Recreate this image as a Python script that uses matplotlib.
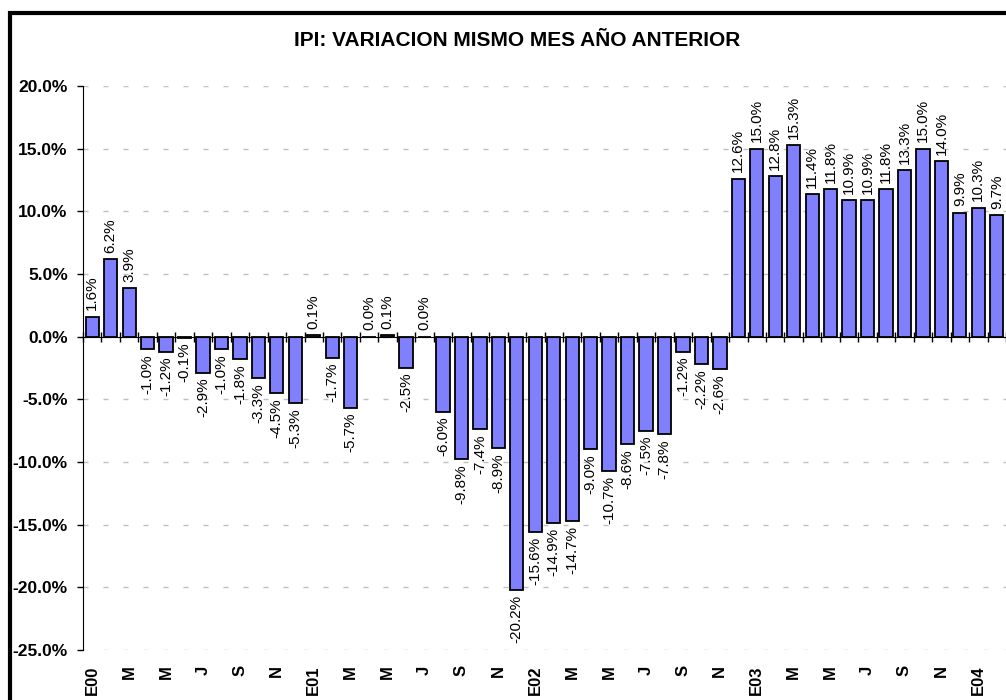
import matplotlib
matplotlib.use("Agg")
import matplotlib.pyplot as plt
from matplotlib.patches import Rectangle
import numpy as np

plt.rcParams['font.family'] = ['Liberation Sans', 'DejaVu Sans']

# Year-on-year change of the IPI, monthly, Jan 2000 - Feb 2004 (%)
values = [1.6, 6.2, 3.9, -1.0, -1.2, -0.1, -2.9, -1.0, -1.8, -3.3, -4.5, -5.3,
          0.1, -1.7, -5.7, 0.0, 0.1, -2.5, 0.0, -6.0, -9.8, -7.4, -8.9, -20.2,
          -15.6, -14.9, -14.7, -9.0, -10.7, -8.6, -7.5, -7.8, -1.2, -2.2, -2.6, 12.6,
          15.0, 12.8, 15.3, 11.4, 11.8, 10.9, 10.9, 11.8, 13.3, 15.0, 14.0, 9.9,
          10.3, 9.7]
tick_labels = ['E00', 'M', 'M', 'J', 'S', 'N',
               'E01', 'M', 'M', 'J', 'S', 'N',
               'E02', 'M', 'M', 'J', 'S', 'N',
               'E03', 'M', 'M', 'J', 'S', 'N',
               'E04']
y_ticks = [-25, -20, -15, -10, -5, 0, 5, 10, 15, 20]

x = np.arange(len(values))

fig = plt.figure(figsize=(10.06, 7), dpi=100)
ax = fig.add_axes([83 / 1006, 50 / 700, 923 / 1006, 564 / 700])

# outer frame of the chart (cut at right and bottom)
fig.add_artist(Rectangle((9.5 / 1006, -0.1), 1.2, 1.1 - 13 / 700,
                         transform=fig.transFigure, fill=False,
                         edgecolor='black', linewidth=3))

ax.bar(x, values, width=0.72, color='#8080FF', edgecolor='black',
       linewidth=1.3, zorder=3)

for xi, v in zip(x, values):
    if v >= 0:
        ax.annotate(f'{v:.1f}%', (xi, v), xytext=(0, 4.5), textcoords='offset points',
                    rotation=90, ha='center', va='bottom', fontsize=11)
    else:
        ax.annotate(f'{v:.1f}%', (xi, v), xytext=(0, -3.5), textcoords='offset points',
                    rotation=90, ha='center', va='top', fontsize=11)

ax.set_xlim(-0.5, len(values) - 0.5)
ax.set_ylim(-25, 20)
ax.set_yticks(y_ticks)
ax.set_yticklabels([f'{t:.1f}%' for t in y_ticks], fontsize=12.5, fontweight='bold')
ax.tick_params(axis='y', direction='out', length=4, width=1, pad=7)
ax.yaxis.grid(True, linestyle=(0, (3.6, 10.8)), color='#c0c0c0', linewidth=1)
ax.set_axisbelow(True)

# category axis crossing at zero
ax.spines['bottom'].set_position(('data', 0))
ax.spines['bottom'].set_zorder(4)
ax.spines['top'].set_visible(False)
ax.spines['right'].set_visible(False)
ax.set_xticks(np.arange(len(values) + 1) - 0.5)
ax.set_xticklabels([])
ax.tick_params(axis='x', direction='inout', length=6.5, width=1)

sec = ax.secondary_xaxis('bottom')
sec.set_xticks(x[::2][:len(tick_labels)])
sec.set_xticklabels(tick_labels, rotation=90, fontsize=12, fontweight='bold')
sec.tick_params(length=0, pad=11)
sec.spines['bottom'].set_visible(False)

fig.text(517 / 1006, 1 - 40 / 700, 'IPI: VARIACION MISMO MES AÑO ANTERIOR',
         ha='center', va='center', fontsize=15, fontweight='bold')

fig.savefig('out.png', dpi=100)
